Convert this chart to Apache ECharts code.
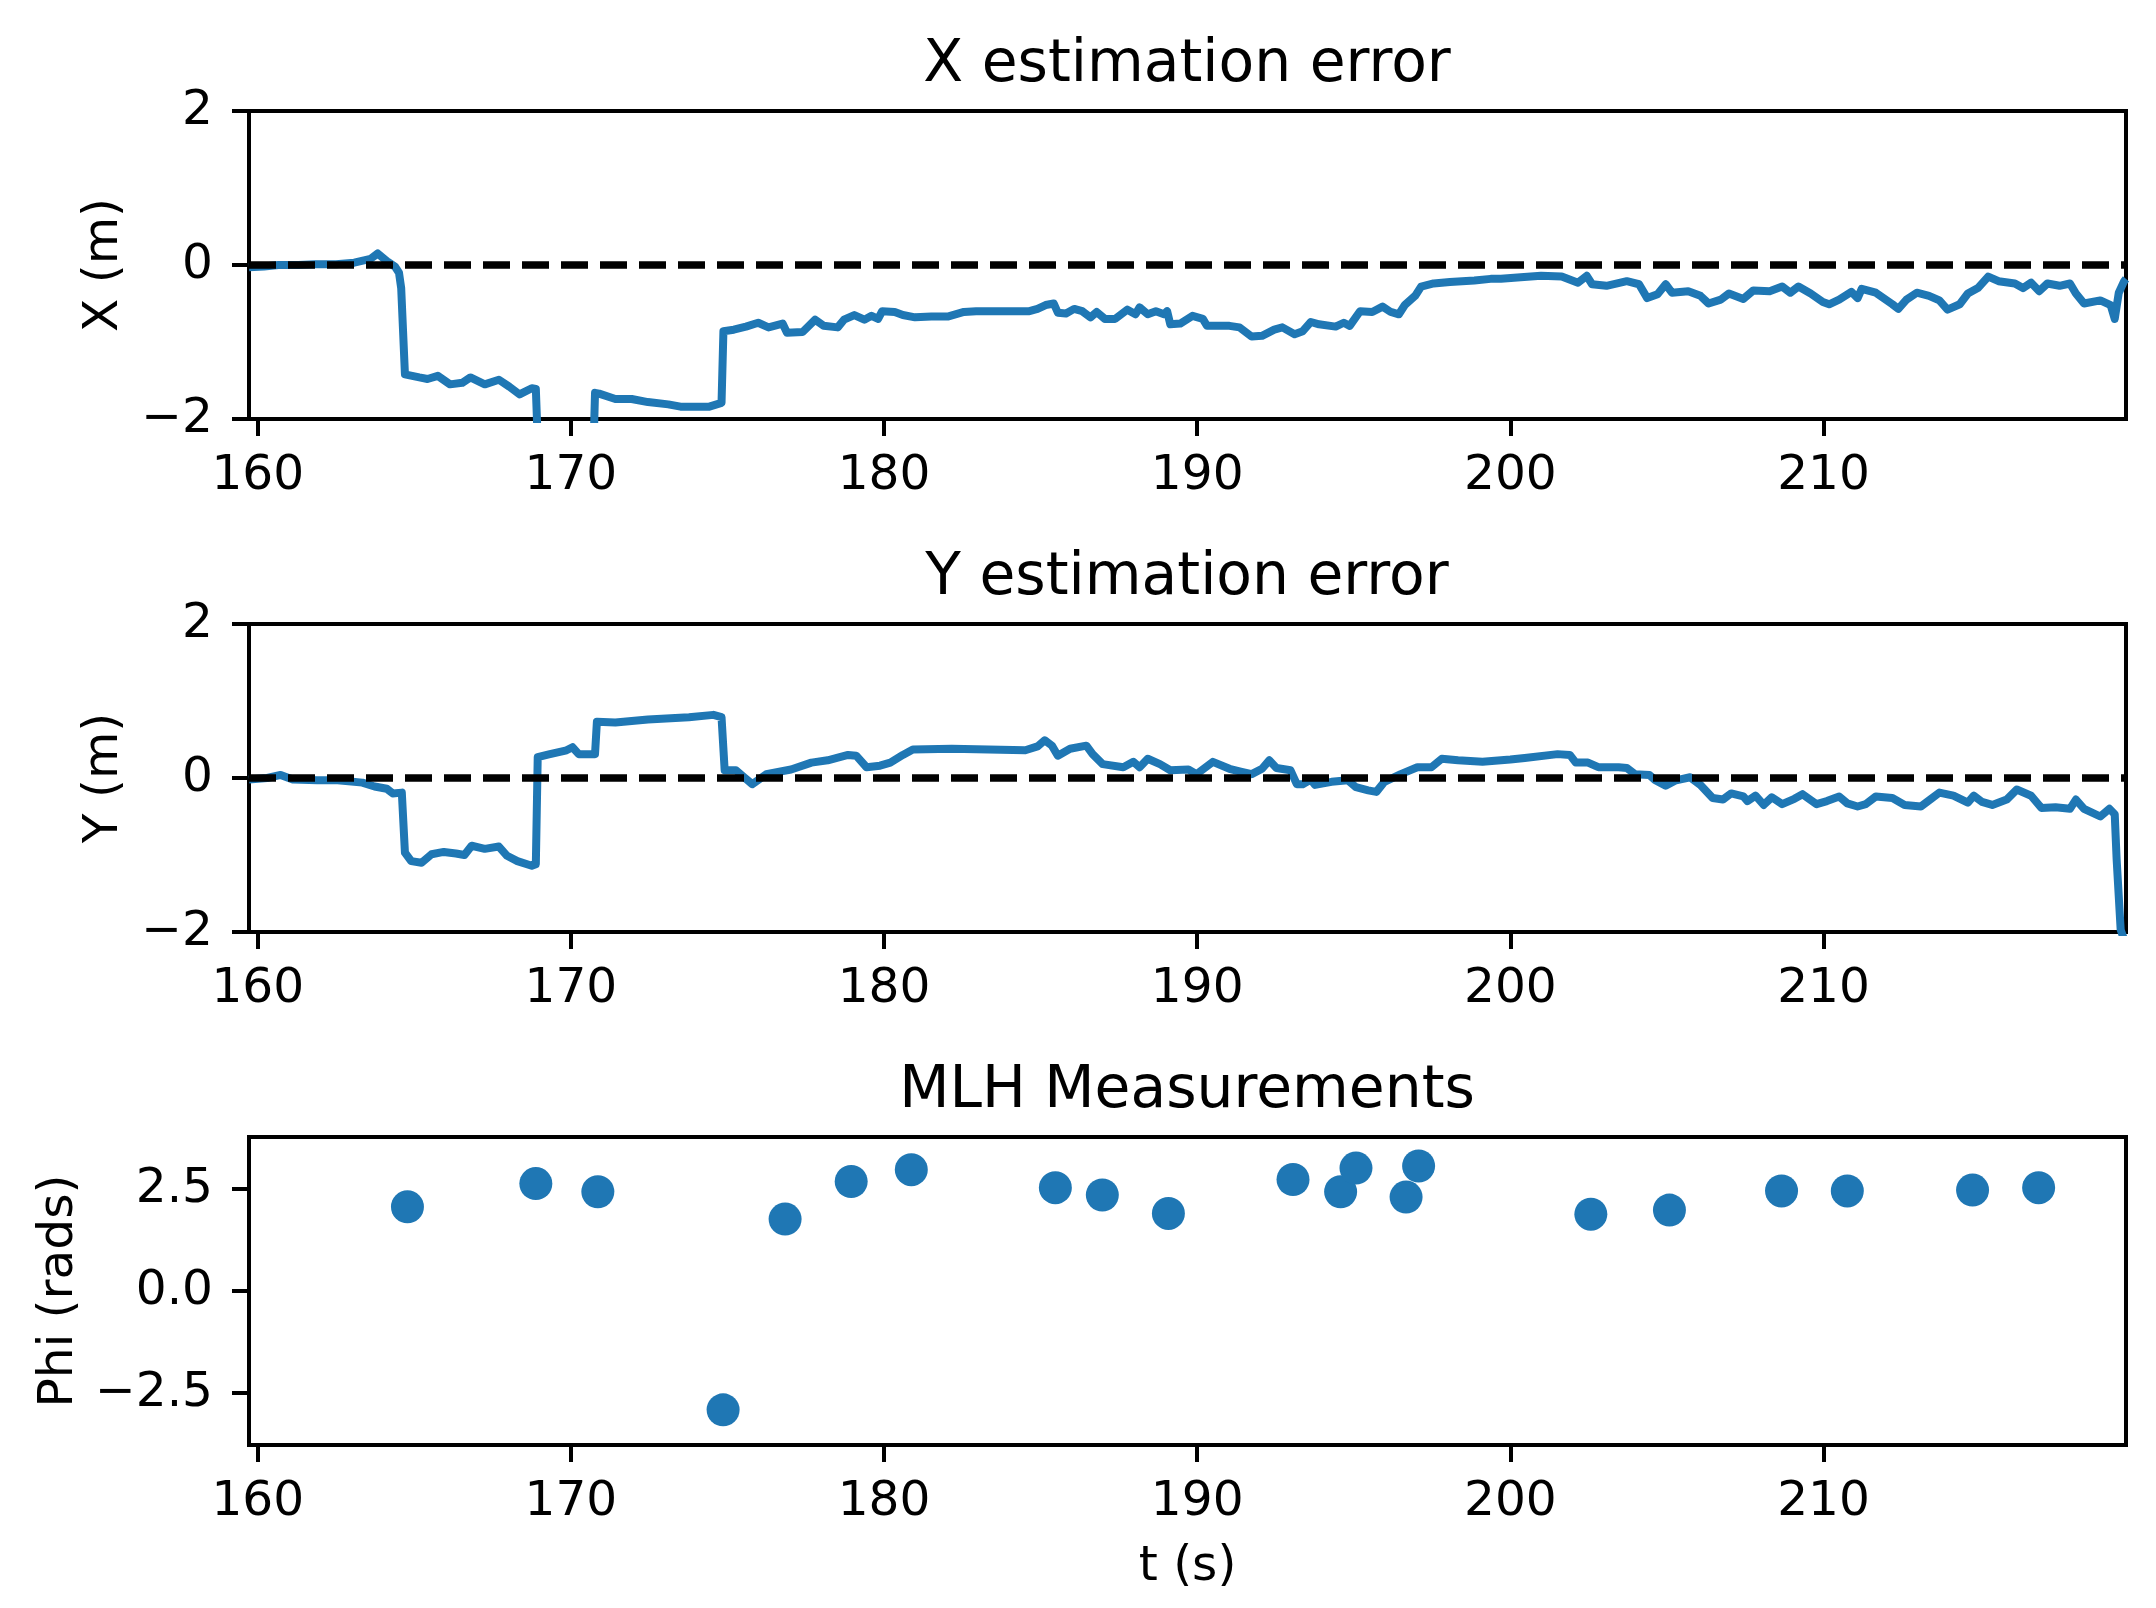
<!DOCTYPE html>
<html>
<head>
<meta charset="utf-8">
<script src="https://cdn.jsdelivr.net/npm/echarts@6/dist/echarts.min.js"></script>
<style>
    html, body { margin: 0; padding: 0; background: #fff; }
    #chart { width: 2156px; height: 1608px; }
</style>
</head>
<body>
<div id="chart"></div>
<script>
// time range of the recording (s)
var tMin = 159.72;
var tMax = 219.66;
var tTicks = [160, 170, 180, 190, 200, 210];
var errTicks = [-2, 0, 2];
var phiTicks = [-2.5, 0, 2.5];

// X estimation error (m)
var xErrTime = [159.72, 160.2, 160.66, 161.3, 161.84, 162.5, 163.08, 163.6, 163.83, 164.12, 164.38, 164.51, 164.58, 164.7,
    165.16, 165.42, 165.75, 166.14, 166.53, 166.79, 167.25, 167.7, 168.03, 168.36, 168.75, 168.88, 168.95, 169.5, 170.2, 170.72,
    170.77, 170.9, 171.42, 171.94, 172.46, 173.11, 173.5, 174.42, 174.81, 174.87, 175.2, 175.59, 175.98, 176.31, 176.76, 176.9,
    177.4, 177.8, 178.07, 178.52, 178.72, 179.05, 179.37, 179.6, 179.81, 179.94, 180.34, 180.6, 180.99, 181.51, 182.03, 182.55,
    182.94, 184.64, 184.9, 185.16, 185.42, 185.55, 185.81, 186.07, 186.33, 186.59, 186.79, 187.05, 187.38, 187.77, 188.03, 188.16,
    188.42, 188.68, 188.94, 189.04, 189.14, 189.46, 189.85, 190.18, 190.31, 191.03, 191.35, 191.74, 192.07, 192.46, 192.72, 193.11,
    193.37, 193.63, 193.89, 194.42, 194.68, 194.87, 195.2, 195.59, 195.92, 196.18, 196.44, 196.63, 196.96, 197.15, 197.55, 198.07,
    198.85, 199.37, 199.7, 200.33, 200.98, 201.64, 202.16, 202.44, 202.61, 203.07, 203.72, 204.11, 204.37, 204.7, 204.96, 205.16,
    205.68, 206.07, 206.33, 206.72, 206.98, 207.44, 207.76, 208.28, 208.68, 208.94, 209.2, 209.59, 209.98, 210.18, 210.5, 210.89,
    211.09, 211.22, 211.67, 212.2, 212.39, 212.65, 212.98, 213.37, 213.7, 213.96, 214.35, 214.61, 214.93, 215.26, 215.59, 216.11,
    216.37, 216.63, 216.89, 217.15, 217.54, 217.87, 218.06, 218.32, 218.84, 219.17, 219.3, 219.43, 219.6, 219.66];
var xErrVal = [-0.03, -0.02, 0.0, 0.0, 0.01, 0.01, 0.03, 0.08, 0.15, 0.05, -0.02, -0.10, -0.3, -1.42,
    -1.46, -1.48, -1.44, -1.55, -1.53, -1.46, -1.55, -1.49, -1.58, -1.68, -1.60, -1.61, -2.4, -2.5, -2.5, -2.4,
    -1.66, -1.67, -1.74, -1.74, -1.78, -1.81, -1.84, -1.84, -1.79, -0.86, -0.84, -0.80, -0.75, -0.81, -0.76, -0.88,
    -0.87, -0.71, -0.79, -0.81, -0.71, -0.65, -0.71, -0.66, -0.70, -0.60, -0.61, -0.65, -0.68, -0.67, -0.67, -0.61,
    -0.60, -0.60, -0.57, -0.52, -0.50, -0.62, -0.63, -0.57, -0.60, -0.68, -0.61, -0.70, -0.70, -0.58, -0.64, -0.55,
    -0.64, -0.60, -0.64, -0.60, -0.77, -0.76, -0.66, -0.70, -0.79, -0.79, -0.81, -0.93, -0.92, -0.84, -0.81, -0.90,
    -0.86, -0.74, -0.77, -0.80, -0.75, -0.79, -0.60, -0.61, -0.54, -0.61, -0.64, -0.52, -0.40, -0.28, -0.24, -0.22,
    -0.20, -0.18, -0.18, -0.16, -0.14, -0.15, -0.23, -0.14, -0.25, -0.27, -0.21, -0.25, -0.43, -0.38, -0.25, -0.36,
    -0.34, -0.40, -0.50, -0.45, -0.37, -0.44, -0.33, -0.34, -0.28, -0.36, -0.28, -0.37, -0.48, -0.51, -0.45, -0.35,
    -0.43, -0.31, -0.36, -0.51, -0.57, -0.45, -0.36, -0.40, -0.46, -0.58, -0.51, -0.37, -0.30, -0.15, -0.21, -0.24,
    -0.30, -0.23, -0.34, -0.24, -0.27, -0.24, -0.37, -0.50, -0.46, -0.52, -0.70, -0.36, -0.21, -0.18];

// Y estimation error (m)
var yErrTime = [159.72, 160.3, 160.73, 161.12, 161.9, 162.55, 163.34, 163.73, 164.12, 164.31, 164.6, 164.7, 164.9, 165.23,
    165.55, 165.94, 166.33, 166.6, 166.83, 167.25, 167.7, 167.96, 168.29, 168.75, 168.88, 168.94, 169.33, 169.86, 170.05, 170.25,
    170.77, 170.83, 171.42, 172.46, 173.77, 174.55, 174.81, 174.91, 175.27, 175.53, 175.79, 176.24, 177.03, 177.68, 178.2, 178.85,
    179.11, 179.44, 179.87, 180.2, 180.6, 180.92, 182.16, 184.51, 184.9, 185.13, 185.36, 185.55, 185.94, 186.46, 186.66, 186.98,
    187.64, 187.96, 188.16, 188.42, 188.81, 189.14, 189.72, 189.98, 190.5, 191.03, 191.42, 191.74, 192.07, 192.3, 192.53, 192.98,
    193.18, 193.37, 193.63, 193.76, 194.29, 194.81, 195.07, 195.46, 195.72, 195.98, 196.5, 197.03, 197.48, 197.81, 198.33, 199.11,
    200.0, 200.46, 201.51, 201.9, 202.09, 202.48, 202.81, 203.46, 203.72, 203.98, 204.44, 204.63, 204.96, 205.29, 205.74, 206.07,
    206.46, 206.79, 207.05, 207.44, 207.57, 207.83, 208.09, 208.35, 208.68, 209.07, 209.33, 209.78, 210.11, 210.5, 210.76, 211.09,
    211.35, 211.67, 212.2, 212.59, 213.11, 213.44, 213.7, 214.15, 214.61, 214.8, 215.06, 215.39, 215.85, 216.17, 216.63, 216.96,
    217.41, 217.87, 218.06, 218.32, 218.84, 219.13, 219.3, 219.36, 219.49, 219.6];
var yErrVal = [-0.02, 0.0, 0.04, -0.02, -0.03, -0.03, -0.06, -0.11, -0.14, -0.20, -0.19, -0.97, -1.08, -1.10,
    -0.99, -0.96, -0.98, -1.00, -0.88, -0.92, -0.89, -1.01, -1.08, -1.14, -1.12, 0.27, 0.31, 0.36, 0.40, 0.31,
    0.31, 0.73, 0.72, 0.76, 0.79, 0.82, 0.79, 0.10, 0.10, 0.01, -0.08, 0.05, 0.11, 0.20, 0.23, 0.30,
    0.29, 0.14, 0.16, 0.20, 0.30, 0.37, 0.38, 0.36, 0.41, 0.49, 0.42, 0.29, 0.38, 0.42, 0.31, 0.18,
    0.14, 0.21, 0.14, 0.25, 0.18, 0.10, 0.11, 0.05, 0.21, 0.12, 0.08, 0.05, 0.12, 0.23, 0.13, 0.10,
    -0.08, -0.08, -0.02, -0.09, -0.05, -0.03, -0.12, -0.16, -0.18, -0.05, 0.05, 0.14, 0.14, 0.25, 0.23, 0.21,
    0.24, 0.26, 0.31, 0.30, 0.20, 0.20, 0.14, 0.14, 0.13, 0.05, 0.04, -0.03, -0.10, -0.03, 0.01, -0.09,
    -0.26, -0.28, -0.20, -0.24, -0.30, -0.23, -0.35, -0.25, -0.34, -0.27, -0.21, -0.34, -0.30, -0.24, -0.33, -0.37,
    -0.34, -0.24, -0.26, -0.35, -0.37, -0.27, -0.19, -0.23, -0.32, -0.23, -0.31, -0.35, -0.28, -0.15, -0.23, -0.39,
    -0.38, -0.40, -0.28, -0.40, -0.50, -0.40, -0.47, -1.05, -1.97, -2.1];

// MLH measurements (rads)
var mlhTime = [164.78, 168.88, 170.86, 174.86, 176.84, 178.95, 180.87, 185.47, 186.97, 189.08, 193.06, 194.58,
    195.07, 196.67, 197.07, 202.57, 205.08, 208.66, 210.76, 214.76, 216.87];
var mlhPhi = [2.06, 2.63, 2.43, -2.91, 1.76, 2.68, 2.97, 2.53, 2.35, 1.90, 2.73, 2.43,
    3.01, 2.30, 3.06, 1.88, 1.98, 2.45, 2.45, 2.47, 2.53];

var blue = '#1f77b4';
var font = 'DejaVu Sans';
var fs = 48.6;

function pairs(xs, ys) {
    return xs.map(function (x, i) { return [x, ys[i]]; });
}

function minus(s) {
    return String(s).replace('-', '\u2212');
}

function makeGrid(top) {
    return {
        left: 249, top: top, width: 1877, height: 308,
        show: true, borderColor: '#000', borderWidth: 4,
        containLabel: false
    };
}

function makeXAxis(idx, name) {
    return {
        type: 'value', gridIndex: idx, min: tMin, max: tMax,
        name: name || '', nameLocation: 'middle', nameGap: 98,
        nameTextStyle: { fontSize: fs, color: '#000', fontFamily: font },
        axisLine: { show: false, onZero: false },
        splitLine: { show: false },
        axisTick: { show: true, length: 17, customValues: tTicks, lineStyle: { color: '#000', width: 4 } },
        axisLabel: { fontSize: fs, color: '#000', fontFamily: font, margin: 33, customValues: tTicks }
    };
}

function makeYAxis(idx, name, min, max, ticks, gap, digits) {
    return {
        type: 'value', gridIndex: idx, min: min, max: max,
        name: name, nameLocation: 'middle', nameGap: gap, nameRotate: 90,
        nameTextStyle: { fontSize: fs, color: '#000', fontFamily: font },
        axisLine: { show: false, onZero: false },
        splitLine: { show: false },
        axisTick: { show: true, length: 17, customValues: ticks, lineStyle: { color: '#000', width: 4 } },
        axisLabel: {
            fontSize: fs, color: '#000', fontFamily: font, margin: 36, customValues: ticks,
            formatter: function (v) { return minus(v.toFixed(digits)); }
        }
    };
}

function errLine(idx, data) {
    return {
        type: 'line', xAxisIndex: idx, yAxisIndex: idx, data: data,
        symbol: 'none', animation: false, clip: true, z: 2,
        lineStyle: { color: blue, width: 8, join: 'round' }
    };
}

function zeroLine(idx) {
    return {
        type: 'line', xAxisIndex: idx, yAxisIndex: idx,
        data: [[tMin, 0], [tMax, 0]],
        symbol: 'none', animation: false, z: 3,
        lineStyle: { color: '#000', width: 7.3, type: [27, 12] }
    };
}

var myChart = echarts.init(document.getElementById('chart'), null, { renderer: 'canvas', width: 2156, height: 1608 });

var titleStyle = { fontSize: 58.3, fontWeight: 'normal', color: '#000', fontFamily: font, lineHeight: 58 };

var option = {
    backgroundColor: '#fff',
    animation: false,
    title: [
        { text: 'X estimation error', left: 1187, top: 37, textAlign: 'center', padding: 0, textStyle: titleStyle },
        { text: 'Y estimation error', left: 1187, top: 550, textAlign: 'center', padding: 0, textStyle: titleStyle },
        { text: 'MLH Measurements', left: 1187, top: 1063, textAlign: 'center', padding: 0, textStyle: titleStyle }
    ],
    grid: [makeGrid(111), makeGrid(624), makeGrid(1137)],
    xAxis: [makeXAxis(0), makeXAxis(1), makeXAxis(2, 't (s)')],
    yAxis: [
        makeYAxis(0, 'X (m)', -2, 2, errTicks, 120, 0),
        makeYAxis(1, 'Y (m)', -2, 2, errTicks, 120, 0),
        makeYAxis(2, 'Phi (rads)', -3.77, 3.77, phiTicks, 165, 1)
    ],
    series: [
        errLine(0, pairs(xErrTime, xErrVal)),
        zeroLine(0),
        errLine(1, pairs(yErrTime, yErrVal)),
        zeroLine(1),
        {
            type: 'scatter', xAxisIndex: 2, yAxisIndex: 2,
            data: pairs(mlhTime, mlhPhi),
            symbol: 'circle', symbolSize: 33, animation: false,
            itemStyle: { color: blue, opacity: 1 }
        }
    ]
};

myChart.setOption(option);
</script>
</body>
</html>
